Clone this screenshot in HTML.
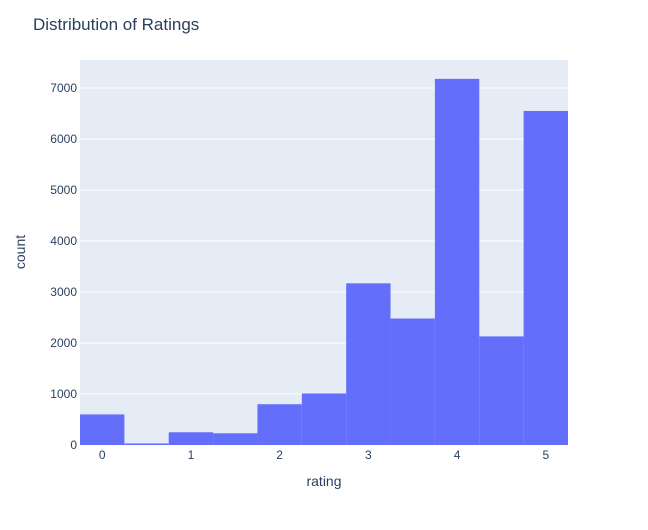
<!DOCTYPE html>
<html><head><meta charset="utf-8"><style>
body{margin:0;background:#fff;font-family:"Liberation Sans",sans-serif}
</style></head><body>
<svg id="chart" width="648" height="525" xmlns="http://www.w3.org/2000/svg">
<rect width="648" height="525" fill="#fff"/>
<text x="33" y="30" font-size="17" fill="#2a3f5f">Distribution of Ratings</text>
<rect x="80" y="60" width="488" height="385" fill="#e5ecf6"/>
<g id="grid"></g><g id="bars"></g><g id="ticks"></g>
<text x="324" y="486" font-size="14" fill="#2a3f5f" text-anchor="middle">rating</text>
<text x="25" y="252" font-size="14" fill="#2a3f5f" text-anchor="middle" transform="rotate(-90 25 252)">count</text>
</svg>
<script>
const binStarts=[-0.25,0.25,0.75,1.25,1.75,2.25,2.75,3.25,3.75,4.25,4.75];
const counts=[600,30,250,230,800,1010,3170,2480,7180,2130,6550];
const xTicks=[0,1,2,3,4,5];
const yTicks=[0,1000,2000,3000,4000,5000,6000,7000];
const binWidth=0.5;
const X0=80,X1=568,Y0=445,Y1=60;
const xMin=-0.25,xMax=5.25,yMax=7550;
const sx=v=>X0+(v-xMin)/(xMax-xMin)*(X1-X0);
const sy=v=>Y0-v/yMax*(Y0-Y1);
const NS="http://www.w3.org/2000/svg";
const g=document.getElementById('grid'),b=document.getElementById('bars'),t=document.getElementById('ticks');
yTicks.forEach(v=>{
 if(v>0){const l=document.createElementNS(NS,'line');
 
 
 l.setAttribute('x1',X0);l.setAttribute('x2',X1);l.setAttribute('y1',sy(v));l.setAttribute('y2',sy(v));
 l.setAttribute('stroke','#fff');l.setAttribute('stroke-width','1');g.appendChild(l);}
 const tx=document.createElementNS(NS,'text');
 
 
 tx.setAttribute('x',X0-3);tx.setAttribute('y',sy(v)+4);tx.setAttribute('text-anchor','end');
 tx.setAttribute('font-size','12');tx.setAttribute('fill','#2a3f5f');tx.textContent=v;t.appendChild(tx);
});
xTicks.forEach(v=>{
 const tx=document.createElementNS(NS,'text');
 
 
 tx.setAttribute('x',sx(v));tx.setAttribute('y',Y0+14);tx.setAttribute('text-anchor','middle');
 tx.setAttribute('font-size','12');tx.setAttribute('fill','#2a3f5f');tx.textContent=v;t.appendChild(tx);
});
counts.forEach((c,i)=>{
 const r=document.createElementNS(NS,'rect');
 
 
 r.setAttribute('x',sx(binStarts[i]));r.setAttribute('width',sx(binStarts[i]+binWidth)-sx(binStarts[i]));
 r.setAttribute('y',sy(c));r.setAttribute('height',Y0-sy(c));r.setAttribute('fill','#636efa');b.appendChild(r);
});
</script>
</body></html>
